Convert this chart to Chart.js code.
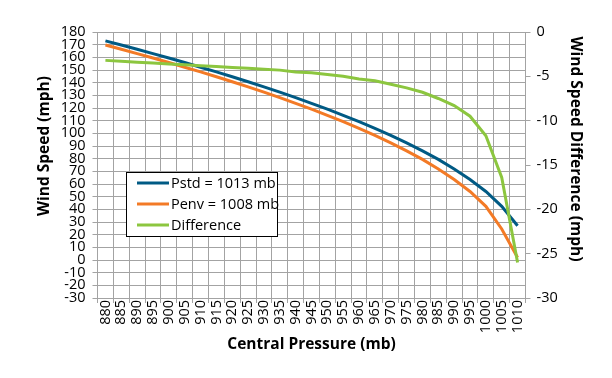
<!DOCTYPE html>
<html>
<head>
<meta charset="utf-8">
<script src="https://cdn.jsdelivr.net/npm/chart.js@4"></script>
<style>
  html, body { margin: 0; padding: 0; background: #fff; }
  #chart { display: block; }
</style>
</head>
<body>
<canvas id="chart" width="612" height="378"></canvas>
<script>
// ================= Data =================
const pressure = ['880','885','890','895','900','905','910','915','920','925','930','935','940','945',
  '950','955','960','965','970','975','980','985','990','995','1000','1005','1010'];

const windStd = [173.0, 169.7, 166.4, 162.9, 159.5, 155.9, 152.2, 148.5, 144.7, 140.7, 136.7, 132.5, 128.2, 123.7,
  119.1, 114.2, 109.2, 103.9, 98.4, 92.5, 86.2, 79.4, 71.9, 63.6, 54.1, 42.4, 27.0];

const windEnv = [169.7, 166.4, 162.9, 159.5, 155.9, 152.2, 148.5, 144.7, 140.7, 136.7, 132.5, 128.2, 123.7, 119.1,
  114.2, 109.2, 103.9, 98.4, 92.5, 86.2, 79.4, 71.9, 63.6, 54.1, 42.4, 24.5, 2.0];

const windDiff = [-3.2, -3.3, -3.4, -3.5, -3.6, -3.7, -3.8, -3.9, -4.0, -4.1, -4.2, -4.3, -4.5, -4.6,
  -4.8, -5.0, -5.3, -5.5, -5.9, -6.3, -6.8, -7.5, -8.3, -9.5, -11.7, -16.4, -26.0];

const seriesNames = ['Pstd = 1013 mb', 'Penv = 1008 mb', 'Difference'];
const seriesColors = ['#005a84', '#f37a26', '#8cc63f'];

const leftTitle = 'Wind Speed (mph)';
const rightTitle = 'Wind Speed Difference (mph)';
const bottomTitle = 'Central Pressure (mb)';

// ================= Styles =================
const FONT = "'Open Sans', 'DejaVu Sans', sans-serif";
const gridColor = '#a3a3a3';

// legend box + y axis titles drawn on the canvas
const extrasPlugin = {
  id: 'extras',
  afterDraw(chart) {
    const ctx = chart.ctx;
    ctx.save();

    // legend
    const lx = 126.5, ly = 172.5, lw = 151, lh = 64;
    ctx.fillStyle = '#fff';
    ctx.fillRect(lx, ly, lw, lh);
    ctx.strokeStyle = '#000';
    ctx.lineWidth = 1;
    ctx.strokeRect(lx, ly, lw, lh);
    ctx.font = '14.5px ' + FONT;
    ctx.textBaseline = 'middle';
    ctx.textAlign = 'left';
    seriesNames.forEach((name, i) => {
      const y = 183 + i * 21;
      ctx.strokeStyle = seriesColors[i];
      ctx.lineWidth = 3;
      ctx.beginPath();
      ctx.moveTo(137, y);
      ctx.lineTo(169, y);
      ctx.stroke();
      ctx.fillStyle = '#000';
      ctx.fillText(name, 171, y + 1);
    });

    // vertical axis titles
    ctx.font = 'bold 15.5px ' + FONT;
    ctx.fillStyle = '#000';
    ctx.textAlign = 'center';
    ctx.save();
    ctx.translate(45, 146);
    ctx.rotate(-Math.PI / 2);
    ctx.fillText(leftTitle, 0, 0);
    ctx.restore();
    ctx.save();
    ctx.translate(575, 149);
    ctx.rotate(Math.PI / 2);
    ctx.fillText(rightTitle, 0, 0);
    ctx.restore();

    ctx.restore();
  }
};

const ctx = document.getElementById('chart').getContext('2d');

new Chart(ctx, {
  type: 'line',
  data: {
    labels: pressure,
    datasets: [
      {
        label: seriesNames[0],
        data: windStd,
        borderColor: seriesColors[0],
        borderWidth: 3,
        pointRadius: 0,
        tension: 0,
        yAxisID: 'y',
        order: 1
      },
      {
        label: seriesNames[1],
        data: windEnv,
        borderColor: seriesColors[1],
        borderWidth: 3,
        pointRadius: 0,
        tension: 0,
        yAxisID: 'y',
        order: 2
      },
      {
        label: seriesNames[2],
        data: windDiff,
        borderColor: seriesColors[2],
        borderWidth: 3,
        pointRadius: 0,
        tension: 0,
        yAxisID: 'y2',
        order: 0
      }
    ]
  },
  options: {
    responsive: false,
    animation: false,
    layout: { padding: { top: 32, left: 0, right: 0, bottom: 0 } },
    plugins: {
      legend: { display: false },
      tooltip: { enabled: false }
    },
    scales: {
      x: {
        type: 'category',
        offset: true,
        afterFit: s => { s.height = 80; },
        grid: { offset: true, color: gridColor, tickLength: 5, tickColor: gridColor },
        border: { color: gridColor },
        ticks: {
          autoSkip: false,
          minRotation: 90,
          maxRotation: 90,
          padding: -3,
          color: '#000',
          font: { family: FONT, size: 14.5 }
        },
        title: {
          display: true,
          text: bottomTitle,
          color: '#000',
          font: { family: FONT, size: 15.5, weight: 'bold' },
          padding: { top: 0, bottom: 24 }
        }
      },
      y: {
        position: 'left',
        min: -30,
        max: 180,
        afterFit: s => { s.width = 97.5; },
        grid: { color: gridColor, tickLength: 5, tickColor: gridColor },
        border: { color: gridColor },
        ticks: {
          stepSize: 10,
          autoSkip: false,
          padding: 7,
          color: '#000',
          font: { family: FONT, size: 14.5 }
        }
      },
      y2: {
        position: 'right',
        min: -30,
        max: 0,
        afterFit: s => { s.width = 86.5; },
        grid: { drawOnChartArea: false, tickLength: 5, color: gridColor, tickColor: gridColor },
        border: { color: gridColor },
        ticks: {
          stepSize: 5,
          autoSkip: false,
          padding: 6,
          color: '#000',
          font: { family: FONT, size: 14.5 }
        }
      }
    }
  },
  plugins: [extrasPlugin]
});
</script>
</body>
</html>
